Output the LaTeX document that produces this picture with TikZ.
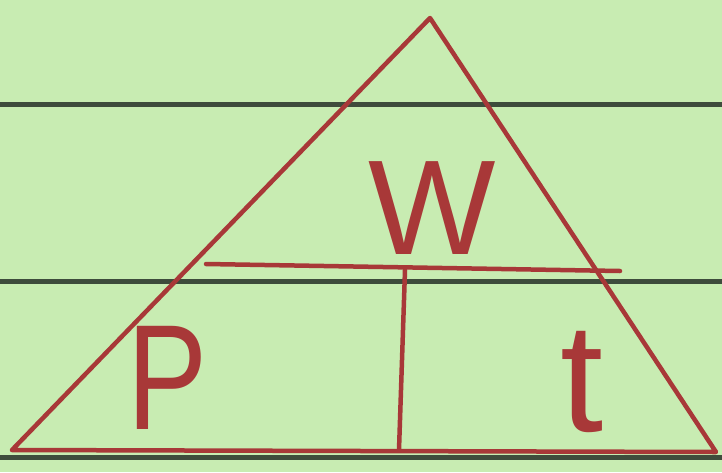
\documentclass[tikz,border=0pt]{standalone}
\usepackage{fontspec}
\setsansfont{Liberation Sans}
\definecolor{paper}{HTML}{C8ECB2}
\definecolor{rule}{HTML}{3E4C3C}
\definecolor{ink}{HTML}{A83838}
\begin{document}
\begin{tikzpicture}[x=1pt,y=-1pt,
  ruleline/.style={draw=rule,line width=5pt},
  inkline/.style={draw=ink,line width=4.5pt,line cap=round,line join=round},
  letter/.style={text=ink,font=\sffamily,inner sep=0pt}]
\fill[paper] (0,0) rectangle (722,472);
\useasboundingbox (0,0) rectangle (722,472);
% ruled lines
\draw[ruleline] (0,104) -- (722,104);
\draw[ruleline] (0,281) -- (722,281);
\draw[ruleline] (0,457) -- (722,457);
% triangle
\coordinate (apex) at (430,18);
\coordinate (bl) at (12,450);
\coordinate (br) at (716,452);
\coordinate (ml) at (206,264);
\coordinate (mr) at (620,271);
\coordinate (vt) at (405,270);
\coordinate (vb) at (399,450);
\draw[inkline] (bl) -- (apex) -- (br) -- (bl);
\draw[inkline] (ml) -- (mr);
\draw[inkline] (vt) -- (vb);
% letters
\node[letter,font=\sffamily\fontsize{135}{135}\selectfont] (w) at (432,208) {W};
\node[letter,xscale=0.8,font=\sffamily\fontsize{150}{150}\selectfont] (p) at (168,378) {P};
\node[letter,font=\sffamily\fontsize{155}{155}\selectfont] (t) at (582,382) {t};
\end{tikzpicture}
\end{document}
